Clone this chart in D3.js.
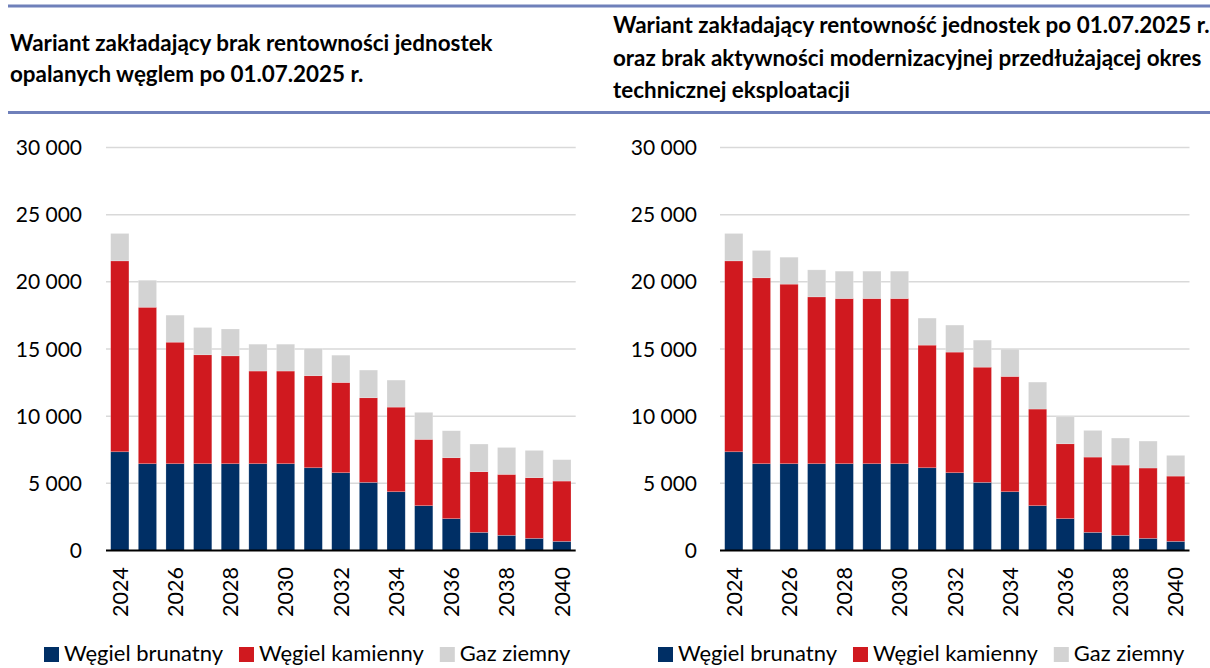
<!DOCTYPE html>
<html>
<head>
<meta charset="utf-8">
<script src="https://cdn.jsdelivr.net/npm/d3@7"></script>
<style>
  html, body { margin: 0; padding: 0; background: #fff; }
  svg { display: block; font-family: Lato, "Open Sans", sans-serif; }
</style>
</head>
<body>
<svg id="chart" width="1210" height="668"></svg>
<script>
// ---------------- DATA ----------------
const years = ["2024","2025","2026","2027","2028","2029","2030","2031","2032","2033","2034","2035","2036","2037","2038","2039","2040"];
const seriesNames = ["Węgiel brunatny", "Węgiel kamienny", "Gaz ziemny"];
const yTicks = [0, 5000, 10000, 15000, 20000, 25000, 30000];
const xTickLabels = ["2024","2026","2028","2030","2032","2034","2036","2038","2040"];

const titleLeft = ["Wariant zakładający brak rentowności jednostek", "opalanych węglem po 01.07.2025 r."];
const titleRight = ["Wariant zakładający rentowność jednostek po 01.07.2025 r.", "oraz brak aktywności modernizacyjnej przedłużającej okres", "technicznej eksploatacji"];

// Left panel
const leftBrunatny = [7350, 6460, 6460, 6460, 6460, 6460, 6460, 6160, 5790, 5070, 4375, 3335, 2370, 1350, 1130, 905, 680];
const leftKamienny = [14210, 11650, 9050, 8110, 8030, 6900, 6900, 6850, 6720, 6300, 6300, 4940, 4535, 4515, 4540, 4515, 4490];
const leftGaz      = [2040, 2010, 2010, 2030, 2000, 2000, 2000, 2030, 2030, 2060, 2010, 2010, 2010, 2060, 2000, 2030, 1590];

// Right panel
const rightBrunatny = [7350, 6460, 6460, 6460, 6460, 6460, 6460, 6160, 5790, 5070, 4375, 3335, 2370, 1350, 1130, 905, 680];
const rightKamienny = [14210, 13840, 13370, 12420, 12300, 12300, 12300, 9130, 8980, 8580, 8585, 7195, 5575, 5605, 5230, 5235, 4860];
const rightGaz      = [2040, 2035, 2005, 2010, 2035, 2035, 2035, 2010, 2010, 2010, 2030, 2005, 2010, 1985, 2010, 2005, 1540];

// ---------------- STYLE ----------------
const colors = ["#002F65", "#D0191F", "#D3D3D3"];
const svg = d3.select("#chart");
const fmt = d3.formatLocale({decimal: ",", thousands: "\u00a0", grouping: [3], currency: ["", " zł"]}).format(",d");

// header rules
svg.append("line").attr("x1", 8).attr("x2", 1210).attr("y1", 6).attr("y2", 6)
  .attr("stroke", "#6F80BA").attr("stroke-width", 3);
svg.append("line").attr("x1", 8).attr("x2", 1210).attr("y1", 112.5).attr("y2", 112.5)
  .attr("stroke", "#6F80BA").attr("stroke-width", 3);

function fitSize(text, weight, target) {
  const t = svg.append("text").attr("font-size", 20).attr("font-weight", weight).text(text);
  const w = t.node().getComputedTextLength();
  t.remove();
  return 20 * target / w;
}
const titleSize = fitSize(titleLeft[0], "bold", 483);
titleLeft.forEach((s, i) => {
  svg.append("text").attr("x", 10).attr("y", 51 + i * 31)
    .attr("font-size", titleSize).attr("font-weight", "bold").attr("fill", "#000").text(s);
});
titleRight.forEach((s, i) => {
  svg.append("text").attr("x", 613).attr("y", 33 + i * 32.5)
    .attr("font-size", titleSize).attr("font-weight", "bold").attr("fill", "#000").text(s);
});

const legendSize = fitSize(seriesNames[0], "normal", 159);

function panel(cfg) {
  const {x0, x1, labelRight, data, legendX} = cfg;
  const y = d3.scaleLinear().domain([0, 30000]).range([550.5, 147.5]);
  const x = d3.scaleBand().domain(years).range([x0, x1]).paddingInner(0.34).paddingOuter(0.17);
  const g = svg.append("g");

  g.selectAll(".grid").data(yTicks.filter(d => d > 0)).join("line")
    .attr("x1", x0).attr("x2", x1)
    .attr("y1", d => y(d)).attr("y2", d => y(d))
    .attr("stroke", "#D9D9D9").attr("stroke-width", 1.5);

  g.selectAll(".ylab").data(yTicks).join("text")
    .attr("x", labelRight).attr("y", d => y(d)).attr("dy", "0.36em")
    .attr("text-anchor", "end").attr("font-size", 21).attr("fill", "#000")
    .text(d => fmt(d));

  const rows = years.map((yr, i) => ({year: yr, a: data[0][i], b: data[1][i], c: data[2][i]}));
  const stack = d3.stack().keys(["a", "b", "c"])(rows);
  stack.forEach((layer, li) => {
    g.selectAll(".bar" + li).data(layer).join("rect")
      .attr("x", d => x(d.data.year)).attr("width", x.bandwidth())
      .attr("y", d => y(d[1])).attr("height", d => y(d[0]) - y(d[1]))
      .attr("fill", colors[li])
      .attr("stroke", "#fff").attr("stroke-opacity", 0.35).attr("stroke-width", 0.6);
  });

  g.append("line").attr("x1", x0).attr("x2", x1).attr("y1", y(0)).attr("y2", y(0))
    .attr("stroke", "#000").attr("stroke-width", 2);

  g.selectAll(".xlab").data(xTickLabels).join("text")
    .attr("transform", d => `translate(${x(d) + x.bandwidth() / 2},567) rotate(-90)`)
    .attr("text-anchor", "end").attr("dy", "0.36em")
    .attr("font-size", 21.5).attr("fill", "#000").text(d => d);

  let lx = legendX;
  seriesNames.forEach((name, i) => {
    g.append("rect").attr("x", lx).attr("y", 647).attr("width", 15).attr("height", 15).attr("fill", colors[i]);
    const t = g.append("text").attr("x", lx + 20).attr("y", 661)
      .attr("font-size", legendSize).attr("fill", "#000").text(name);
    lx += 20 + t.node().getComputedTextLength() + 16;
  });
}

panel({x0: 106, x1: 575.7, labelRight: 82, data: [leftBrunatny, leftKamienny, leftGaz], legendX: 44});
panel({x0: 720, x1: 1189.5, labelRight: 697, data: [rightBrunatny, rightKamienny, rightGaz], legendX: 658});
</script>
</body>
</html>
